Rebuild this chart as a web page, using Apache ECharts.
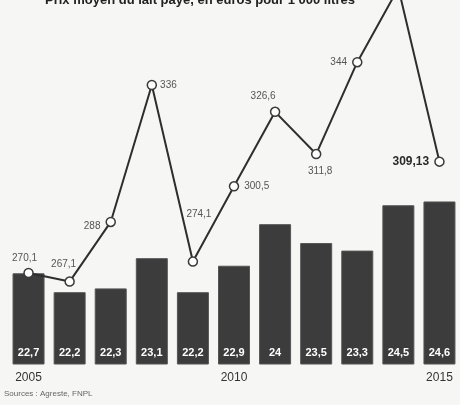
<!DOCTYPE html>
<html>
<head>
<meta charset="utf-8">
<script src="https://cdn.jsdelivr.net/npm/echarts@6/dist/echarts.min.js"></script>
<style>
html,body{margin:0;padding:0;background:#f6f6f4;}
#c{width:460px;height:405px;}
</style>
</head>
<body>
<div id="c"></div>
<script>
// Data
const years = ["2005","2006","2007","2008","2009","2010","2011","2012","2013","2014","2015"];
const collecte = [22.7, 22.2, 22.3, 23.1, 22.2, 22.9, 24, 23.5, 23.3, 24.5, 24.6];
const prix = [270.1, 267.1, 288, 336, 274.1, 300.5, 326.6, 311.8, 344, 370, 309.13];
const tickLabels = ["2005","2010","2015"];

const fmt = v => String(v).replace('.', ',');

// label styling (not data)
const labelStyles = [
  {position:'top', offset:[-4,0]},
  {position:'top', offset:[-6,-2]},
  {position:'left', offset:[0,4]},
  {position:'right', offset:[-2,0]},
  {position:'top', offset:[6,-32]},
  {position:'right', offset:[0,0]},
  {position:'top', offset:[-12,0]},
  {position:'bottom', offset:[4,2]},
  {position:'left', offset:[0,0]},
  {show:false},
  {position:'left', offset:[0,0], fontSize:12, fontWeight:'bold', color:'#2a2a2a'}
];

const lineData = prix.map((v,i)=>({value:v, label:Object.assign({}, labelStyles[i])}));

const chart = echarts.init(document.getElementById('c'));
chart.setOption({
  backgroundColor:'#f6f6f4',
  animation:false,
  title:{
    text:'Prix moyen du lait payé, en euros pour 1 000 litres',
    left:40, top:-11,
    textStyle:{fontSize:13, color:'#222', fontWeight:'bold', fontFamily:'Liberation Sans'}
  },
  graphic:[{
    type:'text', left:4, top:390,
    style:{text:'Sources : Agreste, FNPL', fontSize:8, fill:'#666', fontFamily:'Liberation Sans'}
  }],
  grid:{left:8, top:0, width:464, height:364, containLabel:false},
  xAxis:{
    type:'category', data:years,
    axisLine:{show:false}, axisTick:{show:false},
    axisLabel:{
      interval:0, margin:8, fontSize:12, color:'#333', fontFamily:'Liberation Sans',
      formatter:(v)=> tickLabels.indexOf(v) >= 0 ? v : ''
    }
  },
  yAxis:[
    {type:'value', min:20.3, max:29.93, show:false, splitLine:{show:false}},
    {type:'value', min:238.2, max:365.8, show:false, splitLine:{show:false}}
  ],
  series:[
    {
      type:'bar', data:collecte, yAxisIndex:0, barWidth:32,
      itemStyle:{color:'#3c3c3c', borderColor:'#555', borderWidth:1},
      label:{
        show:true, position:'insideBottom', distance:6,
        color:'#fff', fontSize:11, fontWeight:'bold', fontFamily:'Liberation Sans',
        formatter:p=>fmt(p.value)
      },
      z:2
    },
    {
      type:'line', data:lineData, yAxisIndex:1,
      lineStyle:{color:'#2e2e2e', width:2},
      symbol:'circle', symbolSize:9,
      itemStyle:{color:'#ffffff', borderColor:'#3a3a3a', borderWidth:1.5},
      label:{
        show:true, fontSize:10, color:'#555', fontFamily:'Liberation Sans',
        formatter:p=>fmt(p.value)
      },
      clip:true,
      z:3
    }
  ]
});
</script>
</body>
</html>
